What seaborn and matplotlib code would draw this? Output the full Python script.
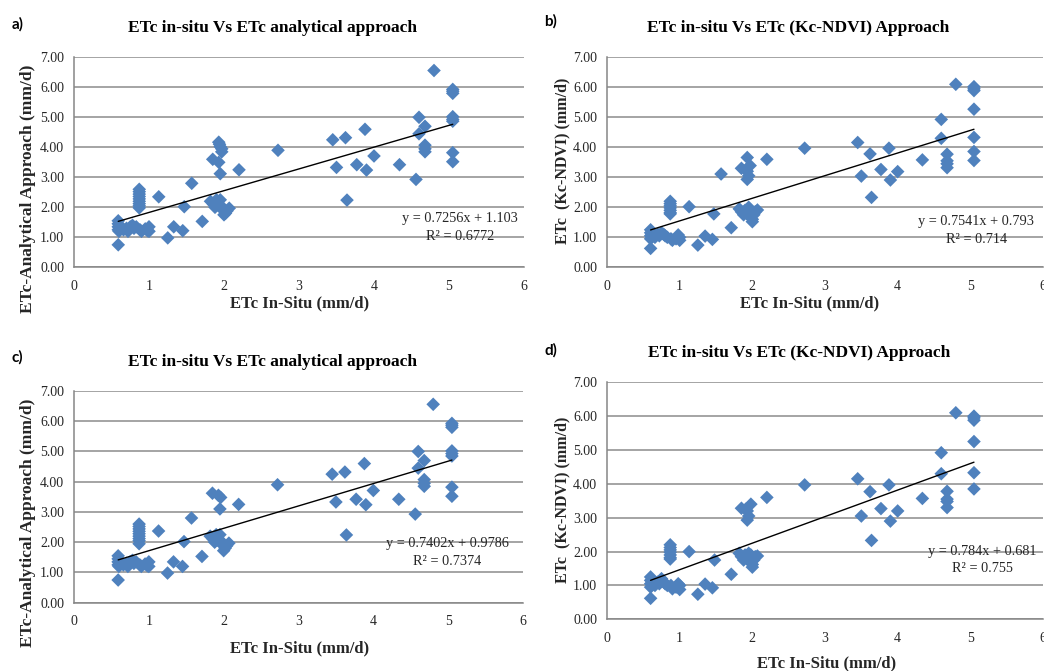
import matplotlib
matplotlib.use("Agg")
import matplotlib.pyplot as plt
import seaborn as sns
import pandas as pd

# ---- data: in-situ ETc vs estimated ETc (mm/d) ----
# a) analytical approach
a_x = [0.59, 0.59, 0.59, 0.59, 0.59, 0.60, 0.62, 0.66, 0.70, 0.72, 0.75, 0.78, 0.80, 0.83,
       0.87, 0.87, 0.87, 0.87, 0.87, 0.87, 0.87, 0.87, 0.87,
       0.88, 0.90, 0.95, 0.98, 1.00, 1.00,
       1.13, 1.25, 1.33, 1.45, 1.47, 1.57, 1.71,
       1.85, 1.82, 1.86, 1.88, 1.90,
       1.93, 1.94, 1.95, 1.97, 1.97, 1.93, 1.95,
       1.95, 1.93, 1.97, 2.00, 2.00, 2.02, 2.04, 1.98, 2.07,
       2.20, 2.72, 3.45, 3.50, 3.62, 3.64, 3.77, 3.88, 3.90, 4.00, 4.34, 4.56,
       4.60, 4.60, 4.68, 4.68, 4.68, 4.68, 4.80,
       5.05, 5.05, 5.05, 5.05, 5.05, 5.05, 5.05, 5.05]
a_y = [0.75, 1.55, 1.45, 1.35, 1.25, 1.20, 1.30, 1.25, 1.30, 1.20, 1.35, 1.40, 1.30, 1.35,
       2.60, 2.52, 2.44, 2.36, 2.28, 2.20, 2.12, 2.05, 1.98,
       1.25, 1.20, 1.28, 1.22, 1.35, 1.20,
       2.35, 0.98, 1.35, 1.22, 2.02, 2.80, 1.53,
       3.60, 2.20, 2.10, 2.00, 2.25,
       4.17, 4.10, 4.02, 3.95, 3.85, 3.50, 3.12,
       2.25, 2.05, 1.95, 1.90, 1.75, 1.80, 1.88, 2.00, 1.97,
       3.25, 3.90, 4.25, 3.33, 4.32, 2.24, 3.42, 4.60, 3.24, 3.71, 3.42, 2.93,
       5.00, 4.45, 4.70, 4.07, 3.95, 3.85, 6.56,
       5.93, 5.87, 5.80, 5.02, 4.93, 4.87, 3.82, 3.52]

# b) Kc-NDVI approach
b_x = [0.60, 0.60, 0.60, 0.60, 0.60, 0.62, 0.66, 0.70, 0.72, 0.75, 0.78, 0.80, 0.83,
       0.87, 0.87, 0.87, 0.87, 0.87, 0.87, 0.87,
       0.88, 0.90, 0.95, 0.98, 1.00, 1.00,
       1.13, 1.25, 1.35, 1.45, 1.47, 1.57, 1.71,
       1.85, 1.82, 1.85, 1.88, 1.90,
       1.93, 1.93, 1.95, 1.93, 1.97, 1.91,
       1.95, 1.93, 1.97, 2.00, 2.00, 2.02, 2.04, 1.98, 2.07,
       2.20, 2.72, 3.45, 3.50, 3.62, 3.64, 3.77, 3.88, 3.90, 4.00, 4.34,
       4.60, 4.60, 4.68, 4.68, 4.68, 4.68, 4.80,
       5.05, 5.05, 5.05, 5.05, 5.05, 5.05, 5.05]
b_y = [0.63, 1.25, 1.15, 1.05, 0.95, 1.10, 1.00, 1.10, 1.05, 1.15, 1.10, 1.05, 1.00,
       2.20, 2.12, 2.05, 1.98, 1.90, 1.82, 1.78,
       0.95, 0.90, 0.95, 1.08, 0.90, 1.00,
       2.02, 0.74, 1.04, 0.93, 1.78, 3.11, 1.32,
       3.30, 1.95, 1.85, 1.75, 1.90,
       3.66, 3.20, 3.05, 2.93, 3.39, 3.25,
       2.00, 1.80, 1.70, 1.60, 1.52, 1.75, 1.85, 1.90, 1.91,
       3.60, 3.97, 4.16, 3.04, 3.78, 2.33, 3.26, 3.97, 2.91, 3.19, 3.58,
       4.93, 4.30, 3.77, 3.55, 3.45, 3.32, 6.10,
       6.02, 5.95, 5.89, 5.27, 4.33, 3.86, 3.56]

# c) analytical approach (second run)
c_x = [0.59, 0.59, 0.59, 0.59, 0.59, 0.60, 0.62, 0.66, 0.70, 0.72, 0.75, 0.78, 0.80, 0.83,
       0.87, 0.87, 0.87, 0.87, 0.87, 0.87, 0.87, 0.87, 0.87,
       0.88, 0.90, 0.95, 0.98, 1.00, 1.00,
       1.13, 1.25, 1.33, 1.45, 1.47, 1.57, 1.71,
       1.85, 1.82, 1.86, 1.88, 1.90,
       1.93, 1.96, 1.95,
       1.95, 1.93, 1.97, 2.00, 2.00, 2.02, 2.04, 1.98, 2.07,
       2.20, 2.72, 3.45, 3.50, 3.62, 3.64, 3.77, 3.88, 3.90, 4.00, 4.34, 4.56,
       4.60, 4.60, 4.68, 4.68, 4.68, 4.68, 4.80,
       5.05, 5.05, 5.05, 5.05, 5.05, 5.05, 5.05, 5.05]
c_y = [0.75, 1.55, 1.45, 1.35, 1.25, 1.20, 1.30, 1.25, 1.30, 1.20, 1.35, 1.40, 1.30, 1.35,
       2.60, 2.52, 2.44, 2.36, 2.28, 2.20, 2.12, 2.05, 1.95,
       1.25, 1.20, 1.28, 1.22, 1.35, 1.20,
       2.37, 0.98, 1.35, 1.20, 2.02, 2.80, 1.53,
       3.62, 2.20, 2.10, 2.00, 2.25,
       3.55, 3.48, 3.10,
       2.25, 2.05, 1.95, 1.90, 1.72, 1.80, 1.88, 2.00, 1.97,
       3.25, 3.90, 4.25, 3.33, 4.32, 2.24, 3.42, 4.60, 3.24, 3.71, 3.42, 2.93,
       5.00, 4.45, 4.70, 4.07, 3.95, 3.85, 6.56,
       5.93, 5.87, 5.80, 5.02, 4.93, 4.85, 3.82, 3.52]

# d) Kc-NDVI approach (second run)
d_x = [0.60, 0.60, 0.60, 0.60, 0.60, 0.62, 0.66, 0.70, 0.72, 0.75, 0.78, 0.80, 0.83,
       0.87, 0.87, 0.87, 0.87, 0.87, 0.87, 0.87,
       0.88, 0.90, 0.95, 0.98, 1.00, 1.00,
       1.13, 1.25, 1.35, 1.45, 1.48, 1.71,
       1.85, 1.82, 1.85, 1.88, 1.90,
       1.93, 1.95, 1.93, 1.98, 1.91,
       1.95, 1.93, 1.97, 2.00, 2.00, 2.02, 2.04, 1.98, 2.07,
       2.20, 2.72, 3.45, 3.50, 3.62, 3.64, 3.77, 3.88, 3.90, 4.00, 4.34,
       4.60, 4.60, 4.68, 4.68, 4.68, 4.68, 4.80,
       5.05, 5.05, 5.05, 5.05, 5.05, 5.05]
d_y = [0.62, 1.25, 1.15, 1.05, 0.95, 1.10, 1.00, 1.10, 1.05, 1.20, 1.10, 1.05, 1.00,
       2.20, 2.12, 2.05, 1.98, 1.90, 1.82, 1.78,
       1.00, 0.90, 0.95, 1.05, 0.88, 1.00,
       2.00, 0.74, 1.04, 0.93, 1.75, 1.33,
       3.28, 1.95, 1.85, 1.75, 1.90,
       3.20, 3.05, 2.93, 3.40, 3.25,
       1.95, 1.80, 1.70, 1.62, 1.54, 1.75, 1.85, 1.90, 1.87,
       3.60, 3.97, 4.15, 3.05, 3.77, 2.33, 3.27, 3.97, 2.90, 3.20, 3.57,
       4.92, 4.30, 3.78, 3.55, 3.48, 3.30, 6.10,
       6.00, 5.95, 5.88, 5.25, 4.33, 3.85]

# linear fits reported for each panel: (slope, intercept, r2 text)
fit_a = (0.7256, 1.103, "0.6772")
fit_b = (0.7541, 0.793, "0.714")
fit_c = (0.7402, 0.9786, "0.7374")
fit_d = (0.784, 0.681, "0.755")

titles = ["ETc in-situ Vs ETc analytical approach",
          "ETc in-situ Vs ETc (Kc-NDVI) Approach",
          "ETc in-situ Vs ETc analytical approach",
          "ETc in-situ Vs ETc (Kc-NDVI) Approach"]
ylabels = ["ETc-Analytical Approach (mm/d)", "ETc  (Kc-NDVI) (mm/d)",
           "ETc-Analytical Approach (mm/d)", "ETc  (Kc-NDVI) (mm/d)"]
xlabel = "ETc In-Situ (mm/d)"
panel_tags = ["a)", "b)", "c)", "d)"]
x_ticks = [0, 1, 2, 3, 4, 5, 6]
y_ticks = [0, 1, 2, 3, 4, 5, 6, 7]

# ---- styling ----
sns.set_theme(style="white")
plt.rcParams["font.family"] = ["Liberation Serif", "DejaVu Serif"]

W, H = 1044, 671
fig = plt.figure(figsize=(W / 100, H / 100), dpi=100)
fig.patch.set_facecolor("white")

MARKER = "#4F81BD"
GRID = "#8c8c8c"
AXIS = "#868686"
TXT = "#262626"


def px_rect(x0, y0, x1, y1):
    return [x0 / W, 1 - y1 / H, (x1 - x0) / W, (y1 - y0) / H]


def fig_text(px, py, s, **kw):
    fig.text(px / W, 1 - py / H, s, **kw)


# axes rectangles (left, top, right, bottom) in pixels
rects = [(74, 57.3, 524, 267.3),
         (607, 57.3, 1043, 267.3),
         (74, 391, 523, 602.7),
         (607, 382.3, 1043, 619.3)]
data = [(a_x, a_y, fit_a), (b_x, b_y, fit_b), (c_x, c_y, fit_c), (d_x, d_y, fit_d)]
# equation text anchor (data coords): x centre, y of equation line, y of R² line
eq_pos = [(5.15, 1.64, 1.04), (5.08, 1.54, 0.94), (4.99, 1.96, 1.36), (5.16, 2.0, 1.49)]
title_pos = [(272, 28), (798, 28), (272, 362), (799, 353)]
tag_pos = [(18, 24), (551, 21), (17, 357), (551, 350)]
xlab_pos = [(300, 303), (810, 303), (300, 648), (827, 663)]
ylab_pos = [(28, 189), (562, 161), (28, 523), (562, 500)]
ylab_size = [12.5, 11.5, 12.5, 11.5]

for i, (rect, (xs, ys, fit)) in enumerate(zip(rects, data)):
    ax = fig.add_axes(px_rect(*rect))
    df = pd.DataFrame({"insitu": xs, "est": ys})
    slope, intercept, r2 = fit

    sns.scatterplot(data=df, x="insitu", y="est", ax=ax, marker="D", s=48,
                    color=MARKER, edgecolor="none", linewidth=0, zorder=3, legend=False)

    # trend line spanning the observed in-situ range
    xr = [min(xs), max(xs)]
    line_df = pd.DataFrame({"insitu": xr, "fit": [slope * v + intercept for v in xr]})
    sns.lineplot(data=line_df, x="insitu", y="fit", ax=ax, color="black",
                 linewidth=1.0, zorder=4, legend=False)

    ax.set_xlim(0, 6)
    ax.set_ylim(0, 7)
    ax.set_xticks(x_ticks)
    ax.set_xticklabels([str(t) for t in x_ticks])
    ax.set_yticks(y_ticks)
    ax.set_yticklabels([f"{t:.2f}" for t in y_ticks])
    ax.set_xlabel("")
    ax.set_ylabel("")

    ax.yaxis.grid(True, color=GRID, linewidth=1.1)
    ax.xaxis.grid(False)
    ax.set_axisbelow(True)
    for side in ("top", "right"):
        ax.spines[side].set_visible(False)
    for side in ("left", "bottom"):
        ax.spines[side].set_color(AXIS)
        ax.spines[side].set_linewidth(1.1)
    ax.tick_params(axis="both", direction="out", length=5, width=1.0, color=AXIS,
                   labelsize=10, labelcolor=TXT)
    ax.tick_params(axis="x", pad=4)
    ax.tick_params(axis="y", pad=2)
    ax.set_facecolor("white")

    ex, ey1, ey2 = eq_pos[i]
    ax.text(ex, ey1, f"y = {slope}x + {intercept}", ha="center", va="center",
            fontsize=10.3, color=TXT, zorder=5)
    ax.text(ex, ey2, f"R² = {r2}", ha="center", va="center",
            fontsize=10.3, color=TXT, zorder=5)

    tx, ty = title_pos[i]
    fig_text(tx, ty, titles[i], ha="center", va="center", fontsize=12.5,
             fontweight="bold", color="black")
    gx, gy = tag_pos[i]
    fig_text(gx, gy, panel_tags[i], ha="center", va="center", fontsize=11,
             fontweight="bold", color="black", family=["Lato", "DejaVu Sans"])
    lx, ly = xlab_pos[i]
    fig_text(lx, ly, xlabel, ha="center", va="center", fontsize=12,
             fontweight="bold", color=TXT)
    yx, yy = ylab_pos[i]
    fig_text(yx, yy, ylabels[i], ha="center", va="center", fontsize=ylab_size[i],
             fontweight="bold", color=TXT, rotation=90)

fig.savefig("out.png", dpi=100, facecolor="white")
